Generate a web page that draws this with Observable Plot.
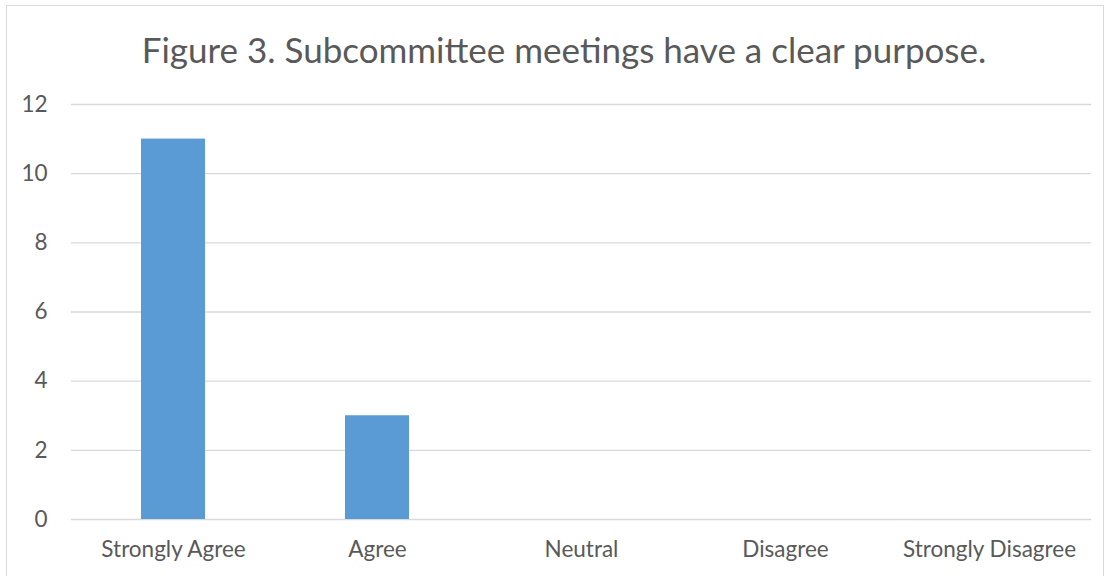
<!DOCTYPE html>
<html>
<head>
<meta charset="utf-8">
<script src="https://cdn.jsdelivr.net/npm/d3@7"></script>
<script src="https://cdn.jsdelivr.net/npm/@observablehq/plot@0.6"></script>
<style>
  html, body { margin: 0; padding: 0; background: #fff; overflow: hidden; }
  #frame { position: absolute; left: 6px; top: 5px; width: 1098px; height: 600px; border: 1px solid #d9d9d9; box-sizing: border-box; }
  #title { position: absolute; left: 0; width: 1128px; top: 26px; text-align: center; font-family: Lato, "Open Sans", sans-serif; font-size: 35px; line-height: 46px; color: #595959; white-space: nowrap; }
  #chart { position: absolute; left: 0; top: 0; }
</style>
</head>
<body>
<div id="frame"></div>
<div id="title">Figure 3. Subcommittee meetings have a clear purpose.</div>
<div id="chart"></div>
<script>
const categories = ["Strongly Agree", "Agree", "Neutral", "Disagree", "Strongly Disagree"];
const counts = [11, 3, 0, 0, 0];
const yTicks = [0, 2, 4, 6, 8, 10, 12];

const data = categories.map((c, i) => ({category: c, count: counts[i]}));

const chart = Plot.plot({
  width: 1108,
  height: 576,
  marginLeft: 71,
  marginRight: 17,
  marginTop: 104,
  marginBottom: 57,
  style: { fontFamily: "Lato, 'Open Sans', sans-serif", color: "#595959", background: "transparent" },
  x: { domain: categories, paddingInner: 0.687, paddingOuter: 0.3435 },
  y: { domain: [0, 12] },
  marks: [
    Plot.gridY(yTicks, { stroke: "#d9d9d9", strokeOpacity: 1, strokeWidth: 1.3 }),
    Plot.barY(data, { x: "category", y: "count", fill: "#5b9bd5" }),
    Plot.axisX({ label: null, tickSize: 0, tickPadding: 22, fontSize: 22.5, fill: "#595959" }),
    Plot.axisY(yTicks, { label: null, tickSize: 0, tickPadding: 24, fontSize: 22.5, fill: "#595959" })
  ]
});
document.getElementById("chart").appendChild(chart);
</script>
</body>
</html>
